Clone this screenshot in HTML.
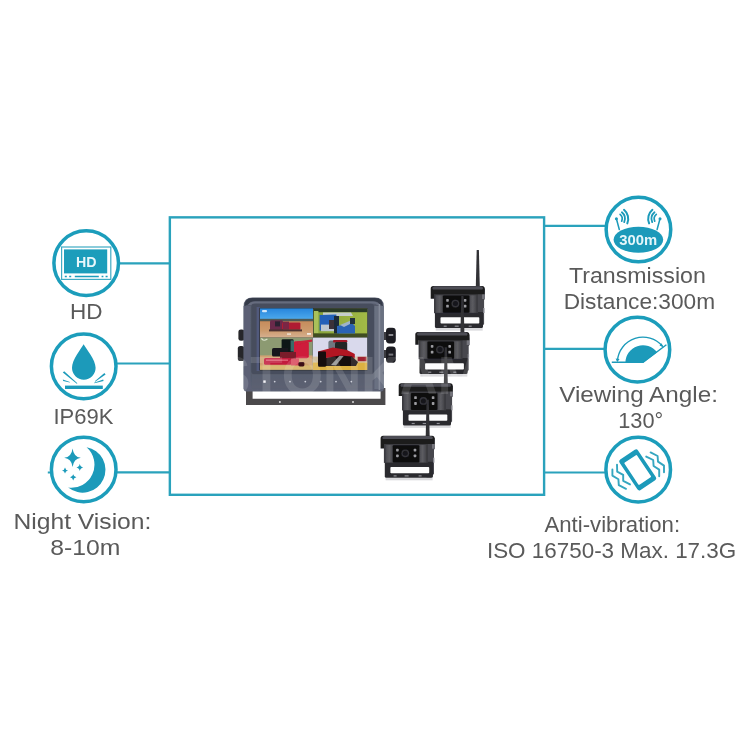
<!DOCTYPE html>
<html><head><meta charset="utf-8">
<style>
html,body{margin:0;padding:0;background:#fff;}
body{width:750px;height:750px;position:relative;overflow:hidden;font-family:"Liberation Sans",sans-serif;color:#555;}
svg{position:absolute;left:0;top:0;}
svg text{font-family:"Liberation Sans",sans-serif;}
.t{position:absolute;white-space:nowrap;line-height:1;color:#5a5a5a;transform-origin:0 0;}
</style></head><body>
<svg id="main" width="750" height="750" viewBox="0 0 750 750">
<defs>
<!--DEFS-->
<linearGradient id="gField" x1="0" y1="0" x2="0" y2="1"><stop offset="0" stop-color="#c68c5c"/><stop offset="0.55" stop-color="#cc9a6c"/><stop offset="1" stop-color="#d6b090"/></linearGradient>
<linearGradient id="gGrass" x1="0" y1="0" x2="1" y2="0"><stop offset="0" stop-color="#86a23a"/><stop offset="1" stop-color="#a2ba46"/></linearGradient>
<filter id="soft1" x="-2%" y="-2%" width="104%" height="104%"><feGaussianBlur stdDeviation="0.55"/></filter>
<!--CAMDEF-->
<g id="cam">
<!-- shadow -->
<rect x="5" y="42" width="47" height="2.6" fill="#c9c9cd" opacity="0.7"/>
<!-- antenna -->
<path d="M46 -36 H48.2 L49.1 1 H45.1 Z" fill="#303036"/>
<!-- side face -->
<path d="M46 3 L54.2 2.4 V13 L53.4 14 V38 L50.5 41.6 H46 Z" fill="#47474d"/>
<rect x="51.4" y="5.6" width="2.8" height="7.4" fill="#74747c"/>
<rect x="52.4" y="22" width="1.4" height="5" fill="#8a8a92"/>
<!-- bracket -->
<path d="M4.2 26 H52.3 V40.6 Q52.3 42.1 50.8 42.1 H5.7 Q4.2 42.1 4.2 40.6 Z" fill="#2a2a2e"/>
<rect x="9.8" y="31.3" width="38.8" height="6.2" rx="0.8" fill="#fdfdfd"/>
<g fill="#8e8e94"><rect x="13" y="39.6" width="3" height="1.2"/><rect x="24" y="39.6" width="4" height="1.2"/><rect x="38" y="39.6" width="3" height="1.2"/></g>
<!-- body -->
<rect x="3.3" y="6" width="44" height="21.2" fill="#3a3a3f"/>
<rect x="5" y="9.3" width="7.4" height="17.4" fill="url(#gPanel)"/>
<rect x="38.6" y="9.3" width="7" height="17.4" fill="url(#gPanel)"/>
<rect x="12.1" y="9.6" width="26.7" height="17.1" rx="1" fill="#0f0f11"/>
<circle cx="24.7" cy="17.6" r="3.9" fill="#34343a"/><circle cx="24.7" cy="17.6" r="2.5" fill="#17171a"/>
<g fill="#9c9ca0"><rect x="15.5" y="13" width="2.6" height="2.8" rx="0.7"/><rect x="15.5" y="18.8" width="2.6" height="2.8" rx="0.7"/><rect x="33.1" y="13" width="2.6" height="2.8" rx="0.7"/><rect x="33.1" y="18.8" width="2.6" height="2.8" rx="0.7"/></g>
<!-- hood -->
<path d="M0 2.6 Q0 0 2.6 0 H51.4 Q54 0 54 2.6 V8.2 H3.4 V12.8 H0 Z" fill="#1c1c1f"/>
<path d="M1.6 2.2 Q2 0.2 4 0.2 H50 Q52 0.2 52.4 2.2 L51.6 3.4 H2.4 Z" fill="#4e4e54"/>
</g>
<linearGradient id="gPanel" x1="0" y1="0" x2="1" y2="0"><stop offset="0" stop-color="#4a4a4f"/><stop offset="0.5" stop-color="#5c5c61"/><stop offset="1" stop-color="#444448"/></linearGradient>
<!--/CAMDEF-->
<filter id="soft2" x="-5%" y="-5%" width="110%" height="110%"><feGaussianBlur stdDeviation="0.7"/></filter>
<linearGradient id="gBody" x1="0" y1="0" x2="0" y2="1"><stop offset="0" stop-color="#545a6a"/><stop offset="0.75" stop-color="#525868"/><stop offset="1" stop-color="#5c6274"/></linearGradient>
<linearGradient id="gSky" x1="0" y1="0" x2="0" y2="1"><stop offset="0" stop-color="#2585dc"/><stop offset="1" stop-color="#4eaaec"/></linearGradient>
<filter id="soft" x="-5%" y="-5%" width="110%" height="110%"><feGaussianBlur stdDeviation="0.55"/></filter>
</defs>
<g id="ui" filter="url(#soft1)">
<!-- frame -->
<g fill="none" stroke="#2aa2bc" stroke-width="2.4">
<rect x="169.85" y="217.35" width="374.25" height="277.45"/>
</g>
<g fill="none" stroke="#2aa2bc" stroke-width="2.15">
<path d="M119 263.3H169 M117 363.5H169 M117 472.4H169 M47.8 472.5H51"/>
<path d="M545 225.9H606 M545 348.9H604 M545 472.5H606"/>
</g>
<g fill="#fff" stroke="#1b9dbb" stroke-width="3.5">
<circle cx="86.2" cy="263.1" r="32.3"/>
<circle cx="83.7" cy="366.35" r="32.3"/>
<circle cx="83.7" cy="469.45" r="32.3"/>
<circle cx="638.45" cy="229.55" r="32.3"/>
<circle cx="637.4" cy="349.65" r="32.3"/>
<circle cx="638.2" cy="469.65" r="32.3"/>
</g>
<!--ICONS-->
<g id="ic-hd">
<rect x="61.6" y="247" width="49.2" height="32.4" fill="none" stroke="#3fabc4" stroke-width="1.2"/>
<rect x="64" y="249.4" width="43.2" height="24" fill="#1b9dbb"/>
<text x="86.3" y="267" font-size="14.2" font-weight="bold" fill="#e9f7fb" text-anchor="middle">HD</text>
<path d="M64.8 276.6h2 M69.2 276.6h2 M74.8 276.6H98.8 M101.6 276.6h1.8 M105.6 276.6h2" stroke="#1b9dbb" stroke-width="1.5" fill="none"/>
</g>
<g id="ic-drop" fill="#1a9aba">
<path d="M83.6 344.2 C81 349 72 359.5 72 367.8 A11.8 11.9 0 0 0 95.6 367.8 C95.6 359.5 86.2 349 83.6 344.2 Z"/>
<rect x="65" y="385.6" width="37.8" height="3.4"/>
<path d="M62.8 372.6 L64.2 371.2 L77.4 383.2 L76.8 383.8 Z"/>
<path d="M62.8 379.4 L63.2 380.9 L69.8 382.5 L69.9 382 Z"/>
<path d="M104.4 373 L105.6 374.5 L95.2 381.8 L94.8 381.2 Z"/>
<path d="M103.2 379.5 L103.6 381 L94.3 383.3 L94.1 382.7 Z"/>
</g>
<g id="ic-moon" fill="#1a9aba">
<path d="M86.6 447.2 A22.9 22.9 0 1 1 68.2 487.6 A23.2 23.2 0 0 0 86.6 447.2 Z"/>
<path d="M72.6 448.4 Q73.6 456.8 80.8 457.8 Q73.6 458.8 72.6 467 Q71.6 458.8 64.2 457.8 Q71.6 456.8 72.6 448.4Z"/>
<path d="M79.8 463.8 Q80.3 466.9 83.2 467.4 Q80.3 467.9 79.8 471 Q79.3 467.9 76.4 467.4 Q79.3 466.9 79.8 463.8Z"/>
<path d="M65 467.4 Q65.5 469.9 68 470.4 Q65.5 470.9 65 473.4 Q64.5 470.9 62 470.4 Q64.5 469.9 65 467.4Z"/>
<path d="M73.2 474.2 Q73.7 476.7 76.4 477.2 Q73.7 477.7 73.2 480.4 Q72.7 477.7 70 477.2 Q72.7 476.7 73.2 474.2Z"/>
</g>
<g id="ic-router">
<ellipse cx="638.4" cy="239.8" rx="24.8" ry="13" fill="#1a9aba"/>
<text x="638.3" y="245.3" font-size="14.8" font-weight="bold" fill="#e6f6fa" text-anchor="middle">300m</text>
<g id="ant" fill="none" stroke="#1a9aba" stroke-linecap="round">
<path d="M616.4 218.8 L619.3 229.5" stroke-width="1.5"/>
<circle cx="616.4" cy="218.8" r="1.5" fill="#1a9aba" stroke="none"/>
<path d="M620.1 214.4 A5.8 5.8 0 0 1 621.7 221.1" stroke-width="1.7"/>
<path d="M621.9 212.3 A8.5 8.5 0 0 1 624.2 222.1" stroke-width="1.8"/>
<path d="M624 209.8 A11.8 11.8 0 0 1 627.3 223.4" stroke-width="2"/>
</g>
<use href="#ant" transform="translate(1276.4,0) scale(-1,1)"/>
</g>
<g id="ic-angle">
<path d="M625.4 362.9 A17.6 17.6 0 0 1 657.1 352.3 L643 362.9 Z" fill="#1a9aba"/>
<path d="M611.8 362.3 H643 L666.4 344.7" fill="none" stroke="#1a9aba" stroke-width="1.4"/>
<path d="M617.4 361 A25.6 25.6 0 0 1 662.6 346.4" fill="none" stroke="#1a9aba" stroke-width="1.3"/>
<path d="M615.6 358.6 L617.3 362 L619.6 358.9 Z M659.5 345.6 L663.4 347.2 L661.6 343.2 Z" fill="#1a9aba"/>
</g>
<g id="ic-vib">
<g transform="translate(637.7 469.9) rotate(-33.7) scale(1.06) translate(-637.6 -469.2)">
<rect x="627.15" y="451.9" width="20.9" height="34.6" rx="2.2" fill="#1a9aba"/>
<rect x="630.5" y="456.7" width="14.2" height="25" rx="0.8" fill="#fff"/>
</g>
<g fill="none" stroke="#35a6c0" stroke-width="1.9" stroke-linecap="round" stroke-linejoin="round">
<path d="M612.4 469.4 L612.4 475.6 L618.4 479.2 L618.8 485.2 L626 488.8"/>
<path d="M617 464.6 L617.2 471.6 L623.2 474.8 L623.2 480.8 L630 484.4"/>
<path d="M646.2 456.6 L653.2 460 L653.6 466 L659.2 469.6 L659.2 476.2"/>
<path d="M650.6 452.4 L657.6 456 L658 461.6 L664 465.6 L664 472.2"/>
</g>
</g>
<!--/ICONS-->
</g>
<!--PRODUCT-->
<g id="product" filter="url(#soft2)">
<!-- bracket -->
<path d="M246 388 V405 H385.4 V388 H380.6 V398.8 H252.6 V388 Z" fill="#4b484c"/>
<circle cx="279.9" cy="402" r="1" fill="#d8d8d8"/><circle cx="353" cy="402" r="1" fill="#d8d8d8"/>
<!-- knobs -->
<rect x="238.4" y="329.4" width="6" height="11.4" rx="2.4" fill="#26262b"/>
<rect x="237.8" y="346" width="6.6" height="15" rx="2.6" fill="#26262b"/>
<rect x="384" y="332" width="4" height="8" fill="#3a3a40"/><rect x="384" y="350" width="4" height="8" fill="#3a3a40"/>
<rect x="386" y="327.8" width="9.8" height="15.6" rx="3.4" fill="#1e1e22"/>
<rect x="386" y="346.6" width="9.8" height="16.2" rx="3.4" fill="#1e1e22"/>
<rect x="388.6" y="334" width="4.6" height="2" fill="#8a8a90"/><rect x="388.6" y="353.6" width="4.6" height="2" fill="#77777d"/>
<!-- body -->
<path d="M243.6 306.6 Q243.6 297.6 252.6 297.6 H374.8 Q383.8 297.6 383.8 306.6 V388.4 Q383.8 391.4 380.8 391.4 H246.6 Q243.6 391.4 243.6 388.4 Z" fill="url(#gBody)"/>
<!-- hood dark top -->
<path d="M244.6 306 Q244.4 298.2 252.6 298 H374.8 Q383 298.2 382.8 306 L380 304.6 Q378 301.2 373 301.2 H255 Q250 301.2 248 304.6 Z" fill="#353a4a"/>
<path d="M248 305 Q250 301.4 255 301.4 H373 Q378 301.4 380 305 L377 305 Q376 303.6 372 303.6 H256 Q252 303.6 251 305 Z" fill="#666c7e"/>
<!-- side panels -->
<rect x="243.6" y="306" width="7" height="83" fill="#5d6277" opacity="0.9"/>
<rect x="374.4" y="306" width="9.4" height="83" fill="#6d7384" opacity="0.9"/>
<rect x="378.6" y="304" width="1.6" height="86" fill="#858b9a"/>
<!-- inner bezel -->
<rect x="251.4" y="303.8" width="122.6" height="70.4" rx="3" fill="#474d5d"/>
<rect x="256.6" y="307" width="3" height="64" fill="#56608a" opacity="0.7"/>
<!-- screen -->
<g id="screen">
<rect x="259.4" y="308" width="108" height="62.4" fill="#2a2c30"/>
<!-- TL -->
<rect x="260" y="308.4" width="53" height="11" fill="url(#gSky)"/>
<rect x="262" y="310" width="5" height="2.2" rx="1" fill="#cfe6fa"/>
<rect x="260" y="318.8" width="53" height="2.6" fill="#4d5a56"/>
<rect x="260" y="321.2" width="53" height="16.4" fill="url(#gField)"/>
<rect x="270" y="320.2" width="13" height="10.4" rx="1.4" fill="#6a2a4c"/>
<rect x="275" y="321.4" width="5" height="5" fill="#2a2030"/>
<rect x="282" y="322.4" width="18.4" height="7.4" rx="1.2" fill="#b01a32"/>
<rect x="283" y="321.6" width="6" height="8" fill="#7a2844"/>
<rect x="269" y="329.4" width="33" height="2" fill="#4e3230"/>
<rect x="287" y="333.4" width="4" height="1.4" fill="#eee4d8"/><rect x="307" y="333" width="4" height="1.8" fill="#f2ece4"/>
<!-- TR -->
<rect x="313.6" y="308.8" width="53.6" height="28.4" fill="url(#gGrass)"/>
<rect x="313.6" y="308.8" width="53.6" height="3.4" fill="#2c3b28"/>
<rect x="313.6" y="333.4" width="53.6" height="3.8" fill="#3f4d22"/>
<rect x="314" y="311" width="4.4" height="22" fill="#a9c05a"/>
<path d="M323 312.6 H351 L353 316 H323 Z" fill="#c5cdcc"/>
<path d="M319.6 315 L336.4 314.4 V330.6 H319.6 Z" fill="#2161b8"/>
<rect x="321" y="324.6" width="13" height="6.6" fill="#bcc6cf"/>
<rect x="334" y="316" width="5" height="17.4" fill="#1a2a38"/>
<rect x="329" y="320" width="5" height="9" fill="#3a3038"/>
<path d="M337 326 L352 323 L355 326 V333.4 H337 Z" fill="#2a64b4"/>
<path d="M340 325 L352 320 L354 322 L344 327Z" fill="#9fb4c8"/>
<rect x="350" y="318" width="5" height="6" fill="#24303a"/>
<!-- BL -->
<rect x="260" y="337.6" width="52.6" height="32" fill="#8c9a72"/>
<rect x="260" y="355.4" width="52.6" height="14.2" fill="#d0a272"/>
<rect x="260" y="365.4" width="52.6" height="4.2" fill="#d8b872"/>
<path d="M261.4 338.4 q2 3.4 6 0.6" stroke="#d9e2cc" stroke-width="1.2" fill="none"/>
<rect x="293.6" y="341.2" width="15.2" height="17" rx="2" fill="#cf1a3a"/>
<path d="M297 341.6 L312 339.6 L312.4 341.6 L298 344.6 Z" fill="#c8203a"/>
<rect x="281.6" y="339.2" width="12" height="14.4" rx="1.2" fill="#101818"/>
<rect x="290.6" y="340.4" width="3.4" height="11" fill="#3a6a68"/>
<rect x="272" y="348" width="16" height="8.6" rx="1.6" fill="#17181f"/>
<rect x="280" y="352" width="16" height="7" fill="#7a1a2c"/>
<rect x="264" y="358" width="27.4" height="6.8" rx="1.6" fill="#c21c3c"/>
<rect x="266" y="359.4" width="22" height="1.6" fill="#dc5a70"/>
<rect x="291" y="358.4" width="8" height="7" fill="#d8485c"/>
<rect x="298.4" y="362" width="6" height="4.4" rx="1.4" fill="#3c1018"/>
<!-- BR -->
<rect x="312.8" y="337.6" width="54.4" height="32.4" fill="#d9d9ec"/>
<rect x="312.8" y="356.6" width="54.4" height="6.6" fill="#d2c2a2"/>
<rect x="312.8" y="362.6" width="54.4" height="7.4" fill="#dcb042"/>
<rect x="328.4" y="340.4" width="7" height="9" rx="2" fill="#6f7780"/>
<rect x="333" y="340" width="14.4" height="2.6" rx="1" fill="#a01828"/>
<rect x="335" y="342" width="12.2" height="10" rx="1.4" fill="#202828"/>
<path d="M318 351.6 L333 347.4 L347 350 L354.8 354 V358.4 H318 Z" fill="#b21224"/>
<rect x="318" y="351.4" width="8" height="15.4" rx="1" fill="#120a0a"/>
<path d="M326 358 L340 355.6 L352 356.4 L358 362 L356 366 H326 Z" fill="#18100f"/>
<path d="M331 365 L339.5 355.8 L343.6 356 L336 365.4 Z" fill="#929292"/>
<rect x="357.6" y="356.8" width="8.8" height="4.4" fill="#a02430"/>
</g>
<!-- bottom bezel highlight & buttons -->
<rect x="252" y="374.2" width="122" height="14" fill="#5b6172" opacity="0.6"/>
<g fill="#c9ccd6"><rect x="263.3" y="380.4" width="2.4" height="2.4" fill="#f4f4f8"/><circle cx="274.7" cy="381.6" r="0.9"/><circle cx="290" cy="381.6" r="0.9"/><circle cx="305.3" cy="381.6" r="0.9"/><circle cx="320.7" cy="381.6" r="0.9"/><circle cx="336" cy="381.6" r="0.9"/><circle cx="351.3" cy="381.6" r="0.9"/></g>
</g>
<!--/PRODUCT-->
<!--CAMS-->
<g id="cams" filter="url(#soft2)">
<use href="#cam" x="430.7" y="286"/>
<use href="#cam" x="415.3" y="332"/>
<use href="#cam" x="398.7" y="383.3"/>
<use href="#cam" x="380.6" y="435.7"/>
</g>
<!--/CAMS-->
<text id="wm" x="215" y="394" font-size="53" font-weight="bold" fill="#fff" opacity="0.13" filter="url(#soft2)">STONKAM</text>
<!--LABELS-->
<g id="labels" fill="#5a5a5a" filter="url(#soft)">
<text x="69.95" y="318.6" font-size="22.5" textLength="32.53" lengthAdjust="spacingAndGlyphs">HD</text>
<text x="53.45" y="423.6" font-size="22.5" textLength="59.91" lengthAdjust="spacingAndGlyphs">IP69K</text>
<text x="13.45" y="529.0" font-size="21.6" textLength="137.95" lengthAdjust="spacingAndGlyphs">Night Vision:</text>
<text x="50.20" y="555.0" font-size="21.6" textLength="70.19" lengthAdjust="spacingAndGlyphs">8-10m</text>
<text x="568.95" y="283.0" font-size="21.6" textLength="136.87" lengthAdjust="spacingAndGlyphs">Transmission</text>
<text x="563.70" y="309.0" font-size="21.6" textLength="151.41" lengthAdjust="spacingAndGlyphs">Distance:300m</text>
<text x="559.20" y="401.7" font-size="21.6" textLength="158.72" lengthAdjust="spacingAndGlyphs">Viewing Angle:</text>
<text x="618.20" y="427.5" font-size="21.6" textLength="45.01" lengthAdjust="spacingAndGlyphs">130°</text>
<text x="544.45" y="532.0" font-size="22.5" textLength="135.63" lengthAdjust="spacingAndGlyphs">Anti-vibration:</text>
<text x="486.95" y="558.2" font-size="22.5" textLength="249.30" lengthAdjust="spacingAndGlyphs">ISO 16750-3 Max. 17.3G</text>
</g>
<!--/LABELS-->
</svg>
</body></html>
